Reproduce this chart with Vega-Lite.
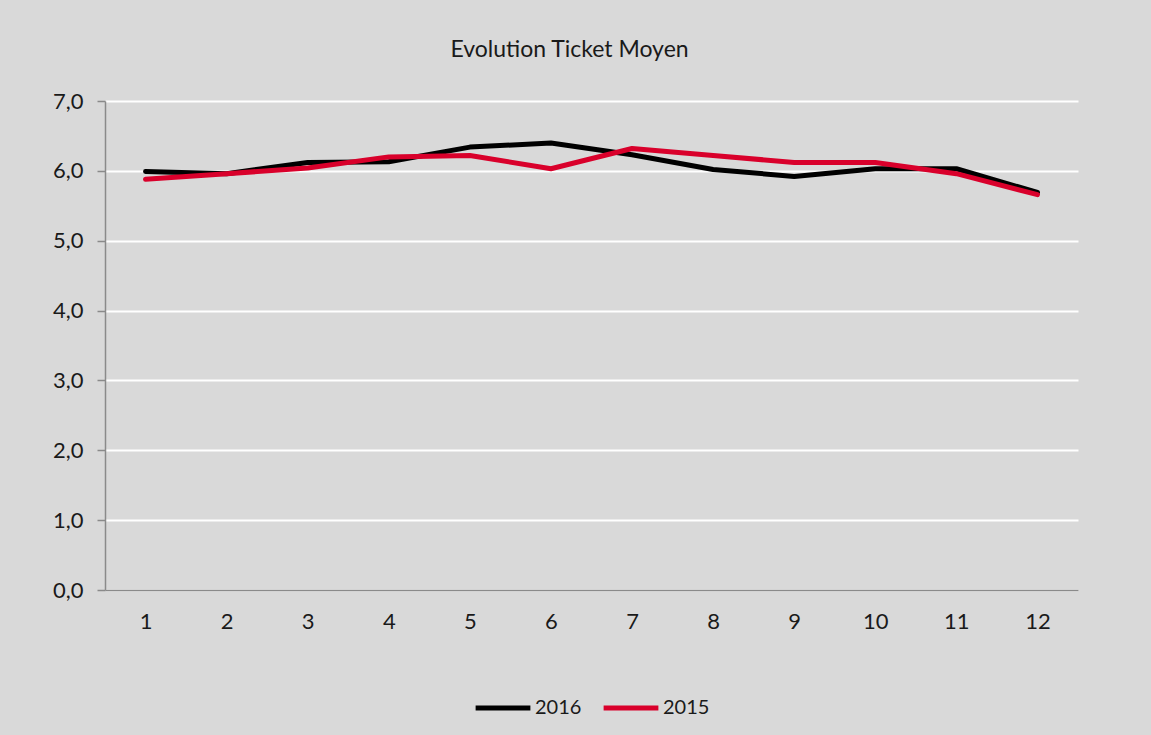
{
  "$schema": "https://vega.github.io/schema/vega-lite/v6.json",
  "autosize": {"type": "none"},
  "width": 973,
  "height": 489,
  "padding": {"left": 105, "top": 101, "right": 73, "bottom": 145},
  "background": "#d9d9d9",
  "title": {
    "text": "Evolution Ticket Moyen",
    "font": "Lato",
    "fontSize": 23,
    "fontWeight": "normal",
    "color": "#1a1a1a",
    "anchor": "middle",
    "dx": -22,
    "offset": 28
  },
  "config": {
    "view": {"stroke": null},
    "font": "Lato",
    "legend": {"layout": {"bottom": {"anchor": "middle"}}},
    "axis": {
      "labelFont": "Lato",
      "labelFontSize": 22,
      "labelColor": "#1a1a1a",
      "domainColor": "#8a8a8a",
      "domainWidth": 1.5,
      "tickColor": "#8a8a8a",
      "tickWidth": 1.5,
      "title": null
    }
  },
  "data": {
    "values": [
      {"mois": 1, "annee": "2016", "valeur": 5.99},
      {"mois": 2, "annee": "2016", "valeur": 5.96},
      {"mois": 3, "annee": "2016", "valeur": 6.12},
      {"mois": 4, "annee": "2016", "valeur": 6.13},
      {"mois": 5, "annee": "2016", "valeur": 6.34},
      {"mois": 6, "annee": "2016", "valeur": 6.40},
      {"mois": 7, "annee": "2016", "valeur": 6.23},
      {"mois": 8, "annee": "2016", "valeur": 6.02},
      {"mois": 9, "annee": "2016", "valeur": 5.92},
      {"mois": 10, "annee": "2016", "valeur": 6.03},
      {"mois": 11, "annee": "2016", "valeur": 6.03},
      {"mois": 12, "annee": "2016", "valeur": 5.69},
      {"mois": 1, "annee": "2015", "valeur": 5.88},
      {"mois": 2, "annee": "2015", "valeur": 5.96},
      {"mois": 3, "annee": "2015", "valeur": 6.04},
      {"mois": 4, "annee": "2015", "valeur": 6.20},
      {"mois": 5, "annee": "2015", "valeur": 6.22},
      {"mois": 6, "annee": "2015", "valeur": 6.03},
      {"mois": 7, "annee": "2015", "valeur": 6.32},
      {"mois": 8, "annee": "2015", "valeur": 6.22},
      {"mois": 9, "annee": "2015", "valeur": 6.12},
      {"mois": 10, "annee": "2015", "valeur": 6.12},
      {"mois": 11, "annee": "2015", "valeur": 5.96},
      {"mois": 12, "annee": "2015", "valeur": 5.66}
    ]
  },
  "mark": {"type": "line", "strokeWidth": 5, "strokeCap": "round", "strokeJoin": "round"},
  "encoding": {
    "x": {
      "field": "mois",
      "type": "ordinal",
      "scale": {"type": "point", "padding": 0.5},
      "axis": {"labelAngle": 0, "ticks": false, "labelPadding": 21, "grid": false}
    },
    "y": {
      "field": "valeur",
      "type": "quantitative",
      "scale": {"domain": [0, 7], "nice": false},
      "axis": {
        "values": [0, 1, 2, 3, 4, 5, 6, 7],
        "labelExpr": "replace(format(datum.value, '.1f'), '.', ',')",
        "tickSize": 8,
        "labelPadding": 14,
        "grid": true,
        "gridColor": "#ffffff",
        "gridWidth": 2,
        "gridOpacity": 1
      }
    },
    "color": {
      "field": "annee",
      "type": "nominal",
      "sort": ["2016", "2015"],
      "scale": {"domain": ["2016", "2015"], "range": ["#000000", "#d9002b"]},
      "legend": {
        "title": null,
        "orient": "bottom",
        "direction": "horizontal",
        "symbolType": "stroke",
        "symbolSize": 3000,
        "symbolStrokeWidth": 5,
        "labelFont": "Lato",
        "labelFontSize": 20,
        "labelColor": "#1a1a1a",
        "labelOffset": 2,
        "columnPadding": 11,
        "offset": 46
      }
    }
  }
}
